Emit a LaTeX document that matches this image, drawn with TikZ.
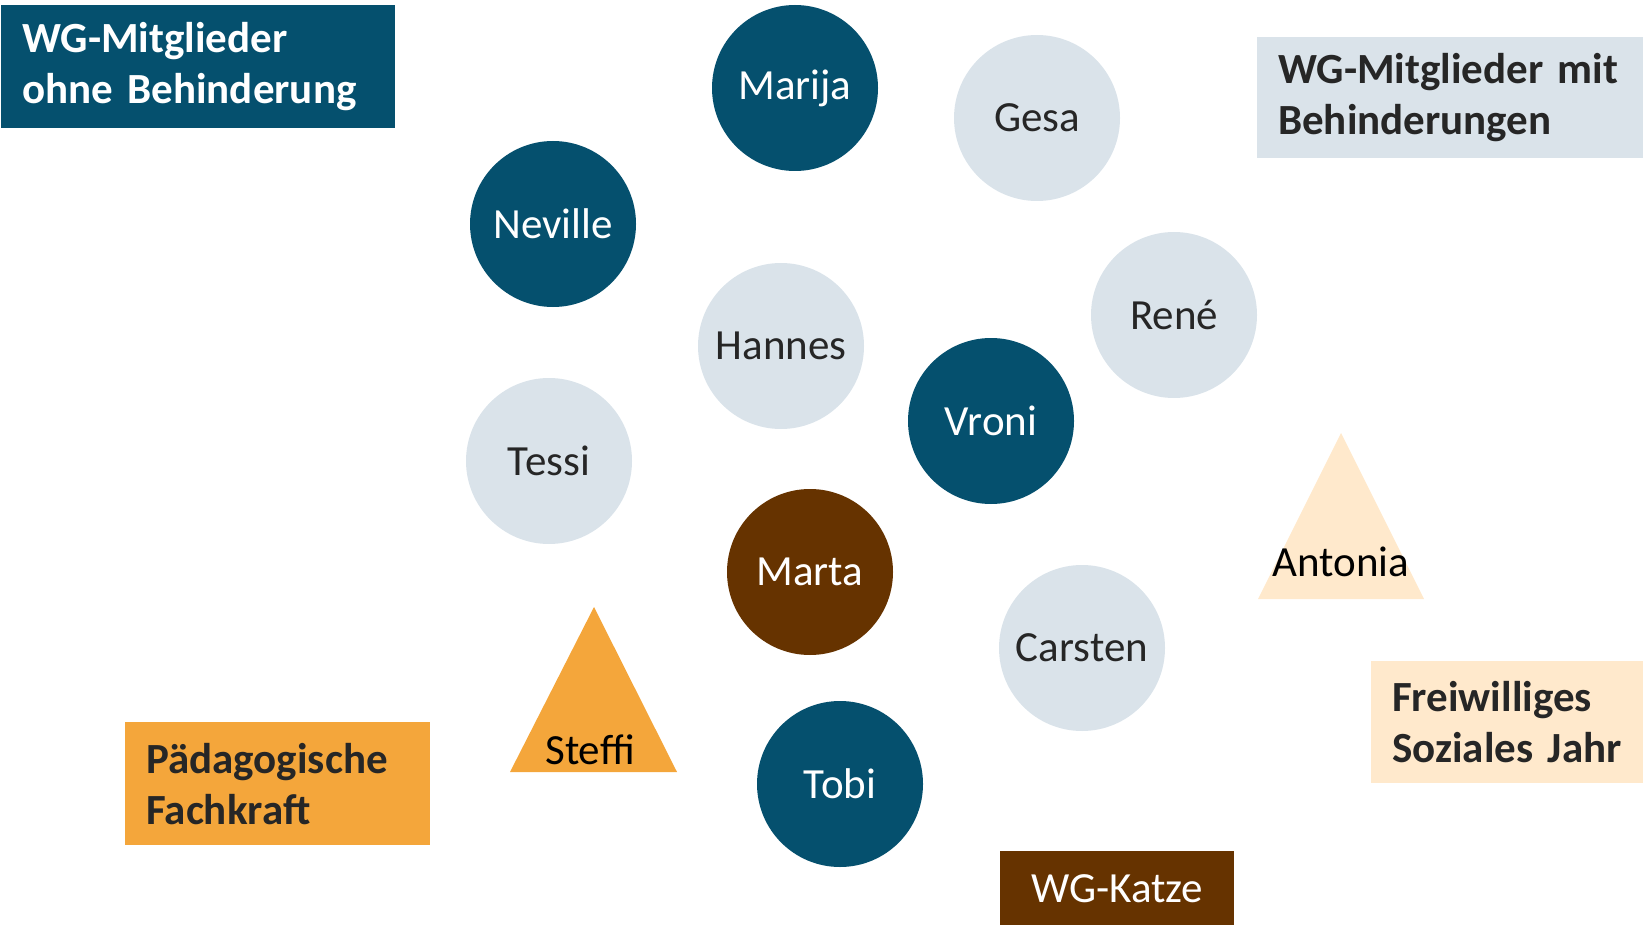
\documentclass[tikz,border=0pt]{standalone}
\usepackage{fontspec}
\setmainfont{Carlito}
\definecolor{dblue}{HTML}{05506E}
\definecolor{lblue}{HTML}{DAE3EA}
\definecolor{brown}{HTML}{663300}
\definecolor{orng}{HTML}{F4A63B}
\definecolor{peach}{HTML}{FFE9CC}
\definecolor{dtext}{HTML}{262626}
\newcommand{\bigtxt}{\fontsize{43}{51}\selectfont}
\tikzset{
  person/.style={circle, minimum size=166pt, inner sep=0pt, font=\bigtxt},
  dperson/.style={person, fill=dblue, text=white},
  lperson/.style={person, fill=lblue, text=dtext},
  legend/.style={rectangle, anchor=north west, inner xsep=21pt, inner ysep=0pt, align=left, font=\bfseries\bigtxt},
  tritext/.style={anchor=base, font=\bigtxt, text=black, inner sep=0pt},
}
\begin{document}
\begin{tikzpicture}[x=1pt, y=-1pt]
\useasboundingbox (0,0) rectangle (1643,925);

% legend boxes
\node[legend, fill=dblue, text=white, minimum height=123pt, text width=352pt] (lg1) at (1,5)
  {\mbox{WG-Mitglieder}\\\mbox{ohne Behinderung}};
\node[legend, fill=lblue, text=dtext, minimum height=121pt, text width=344pt] (lg2) at (1257,37)
  {\mbox{WG-Mitglieder mit}\\\mbox{Behinderungen}};
\node[legend, fill=orng, text=dtext, minimum height=123pt, text width=263pt] (lg3) at (125,722)
  {\mbox{Pädagogische}\\\mbox{Fachkraft}};
\node[legend, fill=peach, text=dtext, minimum height=122pt, text width=230pt] (lg4) at (1371,661)
  {\mbox{Freiwilliges}\\\mbox{Soziales Jahr}};
\node[rectangle, fill=brown, text=white, font=\bigtxt, minimum width=234pt, minimum height=74pt, inner sep=0pt, anchor=north west] (lg5) at (1000,851) {WG-Katze};

% people
\node[dperson] (marija) at (795,88) {Marija};
\node[lperson] (gesa) at (1037,118) {Gesa};
\node[dperson] (neville) at (553,224) {Neville};
\node[lperson] (hannes) at (781,346) {Hannes};
\node[lperson] (rene) at (1174,315) {René};
\node[dperson] (vroni) at (991,421) {Vroni};
\node[lperson] (tessi) at (549,461) {Tessi};
\node[person, fill=brown, text=white] (marta) at (810,572) {Marta};
\node[lperson] (carsten) at (1082,648) {Carsten};
\node[dperson] (tobi) at (840,784) {Tobi};

% triangles
\fill[orng] (594,607) -- (677,772) -- (510,772) -- cycle;
\node[tritext] (steffi) at (590,764) {Steffi};
\fill[peach] (1341,433) -- (1424,599) -- (1258,599) -- cycle;
\node[tritext] (antonia) at (1341,576) {Antonia};
\end{tikzpicture}
\end{document}
